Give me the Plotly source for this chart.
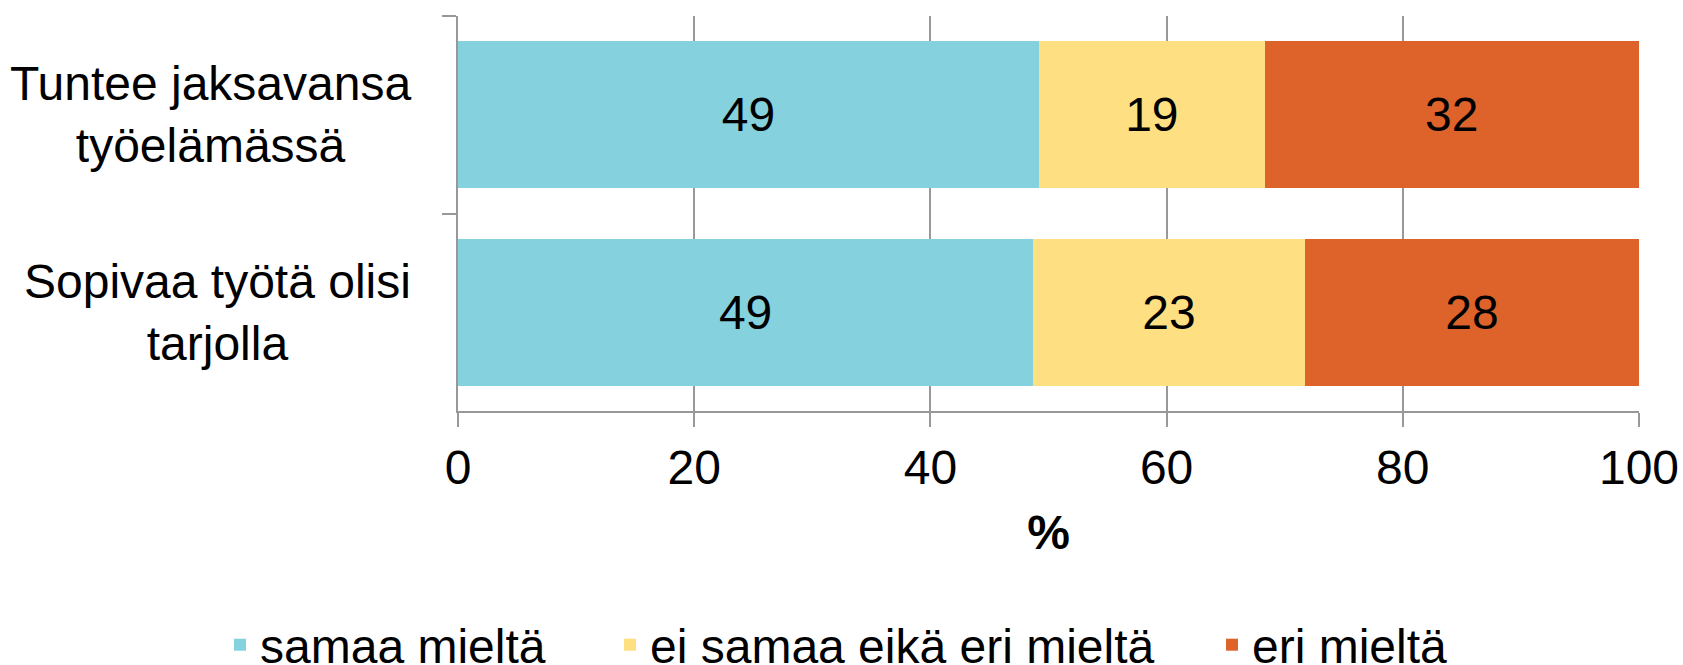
import plotly.graph_objects as go

categories = ["Tuntee jaksavansa<br>työelämässä", "Sopivaa työtä olisi<br>tarjolla"]
series_names = ["samaa mieltä", "ei samaa eikä eri mieltä", "eri mieltä"]
samaa = [49.2, 48.7]
ei_samaa_eika_eri = [19.1, 23.0]
eri = [31.7, 28.3]
x_ticks = [0, 20, 40, 60, 80, 100]

colors = ["#85D1DE", "#FEDF81", "#DD632B"]
FONT = "Liberation Sans, Arial, sans-serif"
FS = 48
W, H = 1683, 665
legend_ids = ["legend", "legend2", "legend3"]
legend_x = [220, 610, 1212]  # left edge of each legend entry, px

fig = go.Figure()
for name, vals, col, lg in zip(series_names, [samaa, ei_samaa_eika_eri, eri], colors, legend_ids):
    fig.add_trace(go.Bar(
        y=categories, x=vals, name=name, orientation="h", legend=lg, showlegend=True,
        marker=dict(color=col, line=dict(width=0)),
        text=[f"{v:.0f}" for v in vals], textposition="inside",
        insidetextanchor="middle", textangle=0,
        insidetextfont=dict(color="black", size=FS, family=FONT),
        hoverinfo="skip",
    ))

for c in categories:
    fig.add_annotation(text=c, xref="paper", x=0, xshift=-45, xanchor="right",
                       yref="y", y=c, yanchor="middle", align="center",
                       showarrow=False, font=dict(size=FS, color="black", family=FONT))

legends = {}
for lg, lx in zip(legend_ids, legend_x):
    legends[lg] = dict(orientation="h", xref="container", yref="container",
                       x=lx / W, xanchor="left", y=20 / H, yanchor="middle",
                       font=dict(size=FS, family=FONT), bgcolor="rgba(0,0,0,0)")

fig.update_layout(
    barmode="stack", bargap=0.255,
    width=W, height=H, showlegend=True,
    margin=dict(l=458, r=44, t=16, b=254, autoexpand=False),
    plot_bgcolor="white", paper_bgcolor="white",
    font=dict(family=FONT, size=FS, color="black"),
    **legends,
)
fig.update_xaxes(range=[0, 100], tickvals=x_ticks, showgrid=True, gridcolor="#989898",
                 gridwidth=1.5, showline=True, linecolor="#989898", linewidth=1.5,
                 ticks="outside", ticklen=14, tickcolor="#989898", tickwidth=1.5,
                 tickfont=dict(size=FS, family=FONT), zeroline=False, automargin=False,
                 title=dict(text="<b>%</b>", font=dict(size=FS, family=FONT), standoff=22))
fig.update_yaxes(autorange="reversed", showticklabels=False, showline=True,
                 linecolor="#989898", linewidth=1.5, ticks="outside", ticklen=14,
                 tickcolor="#989898", tickwidth=1.5, tickson="boundaries", showgrid=False,
                 automargin=False)

fig.write_html("out.html", config={"displayModeBar": False},
               post_script="document.body.style.margin='0';document.body.style.overflow='hidden';")
